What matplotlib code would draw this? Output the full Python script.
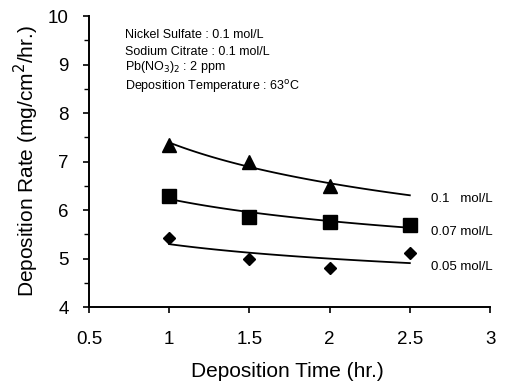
import numpy as np
import matplotlib
matplotlib.use("Agg")
import matplotlib.pyplot as plt
from matplotlib.ticker import MultipleLocator

plt.rcParams['font.family'] = ['Liberation Sans', 'DejaVu Sans']

time = [1.0, 1.5, 2.0, 2.5]
rate_01 = [7.35, 6.99, 6.50]          # 0.1 mol/L (triangles, t = 1, 1.5, 2)
rate_007 = [6.30, 5.85, 5.75, 5.70]   # 0.07 mol/L (squares)
rate_005 = [5.43, 4.99, 4.80, 5.12]   # 0.05 mol/L (diamonds)
labels = ['0.1   mol/L', '0.07 mol/L', '0.05 mol/L']
conditions = ['Nickel Sulfate : 0.1 mol/L',
              'Sodium Citrate : 0.1 mol/L',
              r'Pb(NO$_3$)$_2$ : 2 ppm',
              r'Deposition Temperature : 63$^{\rm o}$C']

fig = plt.figure(figsize=(5.11, 3.82), dpi=100)
ax = fig.add_axes([0.174, 0.196, 0.785, 0.762])

def powfit(x, y, xs):
    b, a = np.polyfit(np.log(x), np.log(y), 1)
    return np.exp(a) * xs ** b

xs = np.linspace(1.0, 2.5, 100)
series = [(time[:3], rate_01, '^', 10.5), (time, rate_007, 's', 9.5), (time, rate_005, 'D', 6.5)]
for (x, y, m, ms), lab in zip(series, labels):
    ax.plot(x, y, linestyle='none', marker=m, color='black', markersize=ms)
    yf = powfit(np.array(x), np.array(y), xs)
    ax.plot(xs, yf, color='black', lw=1.3)
    ax.annotate(lab, (2.5, yf[-1]), xytext=(15, -3), textcoords='offset points',
                fontsize=9.5, va='center', ha='left', annotation_clip=False)

ax.set_xlim(0.5, 3)
ax.set_ylim(4, 10)
ax.yaxis.set_major_locator(MultipleLocator(1))
ax.yaxis.set_minor_locator(MultipleLocator(0.5))
ax.set_xticks([0.5, 1, 1.5, 2, 2.5, 3], ['0.5', '1', '1.5', '2', '2.5', '3'])
ax.spines['top'].set_visible(False)
ax.spines['right'].set_visible(False)
ax.spines['left'].set_linewidth(1.4)
ax.spines['bottom'].set_linewidth(1.4)
ax.tick_params(axis='both', which='major', direction='out', length=4.5, width=1.2, labelsize=13.5)
ax.tick_params(axis='x', which='major', pad=12.5)
ax.tick_params(axis='y', which='major', pad=10)
ax.tick_params(axis='y', which='minor', direction='out', length=3.5, width=1.0)
ax.set_xlabel('Deposition Time (hr.)', fontsize=15)
ax.set_ylabel('Deposition Rate (mg/cm$^2$/hr.)', fontsize=15)
ax.xaxis.set_label_coords(0.495, -0.19)
ax.yaxis.set_label_coords(-0.157, 0.5)
ax.yaxis.label.set_verticalalignment('center')

ys = [9.61, 9.26, 8.95, 8.54]
for yy, t in zip(ys, conditions):
    ax.text(0.724, yy, t, fontsize=9, va='center', ha='left')

fig.savefig('out.png', dpi=100)
